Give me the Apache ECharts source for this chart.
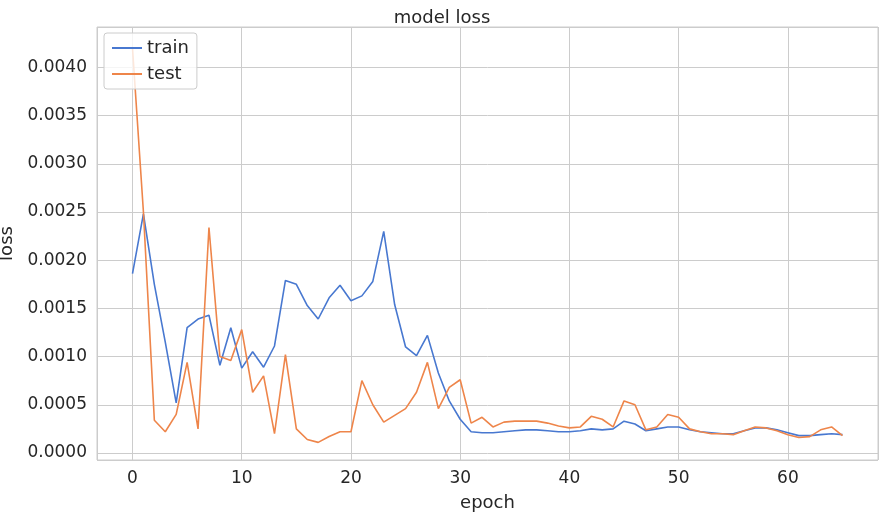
<!DOCTYPE html>
<html><head><meta charset="utf-8">
<script src="https://cdn.jsdelivr.net/npm/echarts@6/dist/echarts.min.js"></script>
<style>html,body{margin:0;padding:0;background:#fff}#c{width:884px;height:518px}</style>
</head><body><div id="c"></div>
<script>
const epochs = Array.from({length:66},(_, i)=>i);
const train = [0.00186,0.00248,0.00175,0.00115,0.00052,0.00130,0.00139,0.00143,0.00091,0.00130,0.00088,0.00105,0.00089,0.00111,0.00179,0.00175,0.00153,0.00139,0.00161,0.00174,0.00158,0.00163,0.00178,0.00230,0.00154,0.00110,0.00101,0.00122,0.00083,0.00054,0.00035,0.00022,0.00021,0.00021,0.00022,0.00023,0.00024,0.00024,0.00023,0.00022,0.00022,0.00023,0.00025,0.00024,0.00025,0.00033,0.00030,0.00023,0.00025,0.00027,0.00027,0.00024,0.00022,0.00021,0.00020,0.00020,0.00023,0.00026,0.00026,0.00024,0.00021,0.00018,0.00018,0.00019,0.00020,0.00019];
const test = [0.00420,0.00250,0.00034,0.00022,0.00040,0.00094,0.00025,0.00234,0.00100,0.00096,0.00128,0.00063,0.00080,0.00020,0.00102,0.00025,0.00014,0.00011,0.00017,0.00022,0.00022,0.00075,0.00050,0.00032,0.00039,0.00046,0.00063,0.00094,0.00046,0.00068,0.00076,0.00031,0.00037,0.00027,0.00032,0.00033,0.00033,0.00033,0.00031,0.00028,0.00026,0.00027,0.00038,0.00035,0.00027,0.00054,0.00050,0.00024,0.00027,0.00040,0.00037,0.00025,0.00022,0.00020,0.00020,0.00019,0.00023,0.00027,0.00026,0.00023,0.00019,0.00016,0.00017,0.00024,0.00027,0.00018];
const F = 'DejaVu Sans';
const chart = echarts.init(document.getElementById('c'));
const lbl = {color:'#262626',fontFamily:F,fontSize:17,margin:10,showMinLabel:false,showMaxLabel:false};
const common = {
  axisLine:{show:false}, axisTick:{show:false},
  splitLine:{show:true,lineStyle:{color:'#cccccc',width:1}},
  nameTextStyle:{color:'#262626',fontFamily:F,fontSize:18}
};
chart.setOption({
  animation:false,
  backgroundColor:'#fff',
  title:{text:'model loss',left:'center',top:4,textStyle:{fontFamily:F,fontSize:18,fontWeight:'normal',color:'#262626'}},
  grid:{left:97,right:6,top:27,bottom:58,outerBoundsMode:'none',containLabel:false,show:true,borderColor:'#cccccc',borderWidth:1},
  legend:{left:104,top:33,orient:'vertical',itemGap:8,itemWidth:30,itemHeight:2,
    backgroundColor:'rgba(255,255,255,0.8)',borderColor:'#cccccc',borderWidth:1,borderRadius:3,padding:[6,8],
    textStyle:{fontFamily:F,fontSize:18,color:'#262626'},icon:'rect',data:['train','test']},
  xAxis:Object.assign({type:'value',min:-3.25,max:68.25,splitNumber:7,name:'epoch',nameLocation:'middle',nameGap:34,
    axisLabel:lbl},common),
  yAxis:Object.assign({type:'value',min:-0.000073,max:0.00442,splitNumber:9,name:'loss',nameLocation:'middle',nameGap:80,
    axisLabel:Object.assign({},lbl,{formatter:v=>v.toFixed(4)})},common),
  series:[
    {name:'train',type:'line',data:epochs.map((e,i)=>[e,train[i]]),symbol:'none',lineStyle:{color:'#4878d0',width:1.6},itemStyle:{color:'#4878d0'}},
    {name:'test',type:'line',data:epochs.map((e,i)=>[e,test[i]]),symbol:'none',lineStyle:{color:'#ee854a',width:1.6},itemStyle:{color:'#ee854a'}}
  ]
});
</script></body></html>
